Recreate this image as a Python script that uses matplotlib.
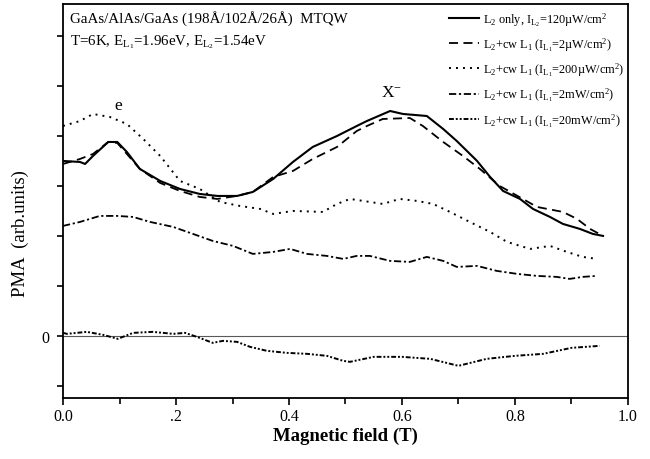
import numpy as np
import matplotlib
matplotlib.use("Agg")
import matplotlib.pyplot as plt
from matplotlib.ticker import MultipleLocator, FixedLocator, FixedFormatter

plt.rcParams["font.family"] = ["Liberation Serif", "DejaVu Serif"]
plt.rcParams["mathtext.fontset"] = "custom"
plt.rcParams["mathtext.rm"] = "Liberation Serif"
plt.rcParams["mathtext.it"] = "Liberation Serif:italic"

# ---- data (field in T, PMA in arb. units)
x_l2 = [0.000, 0.030, 0.039, 0.053, 0.080, 0.096, 0.113, 0.136, 0.172, 0.207, 0.242,
        0.273, 0.308, 0.336, 0.372, 0.407, 0.442, 0.485, 0.520, 0.538, 0.579, 0.602,
        0.644, 0.673, 0.697, 0.733, 0.756, 0.779, 0.809, 0.832, 0.862, 0.885, 0.915,
        0.938, 0.956]
y_l2 = [3.50, 3.48, 3.44, 3.60, 3.88, 3.88, 3.68, 3.34, 3.10, 2.94, 2.84,
        2.80, 2.80, 2.88, 3.14, 3.48, 3.78, 4.00, 4.20, 4.30, 4.50, 4.44,
        4.40, 4.14, 3.90, 3.50, 3.18, 2.90, 2.74, 2.54, 2.38, 2.24, 2.14,
        2.04, 2.00]

x_2uw = [0.000, 0.030, 0.053, 0.080, 0.096, 0.113, 0.136, 0.172, 0.207, 0.242, 0.273,
         0.308, 0.336, 0.372, 0.407, 0.442, 0.485, 0.520, 0.538, 0.566, 0.614, 0.637,
         0.673, 0.708, 0.738, 0.773, 0.814, 0.839, 0.885, 0.910, 0.933, 0.956]
y_2uw = [3.44, 3.54, 3.64, 3.88, 3.86, 3.64, 3.34, 3.06, 2.90, 2.78, 2.74,
         2.80, 2.88, 3.18, 3.30, 3.54, 3.78, 4.10, 4.20, 4.34, 4.36, 4.20,
         3.88, 3.60, 3.34, 3.00, 2.74, 2.58, 2.48, 2.34, 2.14, 2.00]

x_200uw = [0.000, 0.030, 0.053, 0.083, 0.113, 0.142, 0.172, 0.207, 0.242, 0.278, 0.313,
           0.349, 0.372, 0.407, 0.460, 0.485, 0.508, 0.543, 0.566, 0.596, 0.627, 0.655,
           0.685, 0.720, 0.756, 0.786, 0.827, 0.862, 0.892, 0.920, 0.945]
y_200uw = [4.20, 4.30, 4.44, 4.38, 4.24, 3.94, 3.60, 3.10, 2.94, 2.68, 2.60,
           2.54, 2.44, 2.50, 2.48, 2.64, 2.74, 2.68, 2.64, 2.74, 2.70, 2.64,
           2.48, 2.28, 2.08, 1.88, 1.74, 1.80, 1.68, 1.58, 1.54]

x_2mw = [0.000, 0.030, 0.065, 0.096, 0.124, 0.154, 0.195, 0.230, 0.265, 0.301, 0.336,
         0.372, 0.402, 0.432, 0.467, 0.496, 0.520, 0.543, 0.579, 0.614, 0.644, 0.673,
         0.697, 0.733, 0.768, 0.804, 0.839, 0.874, 0.897, 0.920, 0.945]
y_2mw = [2.20, 2.28, 2.40, 2.40, 2.38, 2.28, 2.18, 2.04, 1.90, 1.80, 1.64,
         1.68, 1.74, 1.64, 1.60, 1.54, 1.60, 1.60, 1.50, 1.48, 1.58, 1.50,
         1.38, 1.40, 1.30, 1.24, 1.20, 1.18, 1.14, 1.18, 1.20]

x_20mw = [0.000, 0.007, 0.042, 0.071, 0.097, 0.124, 0.159, 0.195, 0.216, 0.237, 0.265,
          0.283, 0.308, 0.331, 0.361, 0.396, 0.432, 0.467, 0.496, 0.508, 0.550, 0.600,
          0.650, 0.700, 0.750, 0.800, 0.850, 0.900, 0.950]
y_20mw = [0.06, 0.04, 0.08, 0.02, -0.06, 0.06, 0.08, 0.04, 0.06, -0.02, -0.14,
          -0.10, -0.12, -0.22, -0.30, -0.34, -0.36, -0.40, -0.50, -0.52, -0.42, -0.42,
          -0.46, -0.60, -0.46, -0.40, -0.36, -0.24, -0.20]

labels = [
    r"L$_2$ only, I$_{\mathrm{L}_2}$=120µW/cm$^2$",
    r"L$_2$+cw L$_1$ (I$_{\mathrm{L}_1}$=2µW/cm$^2$)",
    r"L$_2$+cw L$_1$ (I$_{\mathrm{L}_1}$=200µW/cm$^2$)",
    r"L$_2$+cw L$_1$ (I$_{\mathrm{L}_1}$=2mW/cm$^2$)",
    r"L$_2$+cw L$_1$ (I$_{\mathrm{L}_1}$=20mW/cm$^2$)",
]
xtick_vals = [0.0, 0.2, 0.4, 0.6, 0.8, 1.0]
xtick_labels = ["0.0", ".2", "0.4", "0.6", "0.8", "1.0"]

# ---- figure
fig = plt.figure(figsize=(6.5, 4.6), dpi=100)
ax = fig.add_axes([0.097, 0.133, 0.869, 0.856])

ax.axhline(0, color="0.35", lw=0.8, zorder=1)
ax.plot(x_l2, y_l2, color="k", lw=1.5, ls="-", label=labels[0])
ax.plot(x_2uw, y_2uw, color="k", lw=1.3, ls=(0, (5, 3)), label=labels[1])
ax.plot(x_200uw, y_200uw, color="k", lw=1.4, ls=(0, (1, 2.6)), label=labels[2])
ax.plot(x_2mw, y_2mw, color="k", lw=1.3, ls=(0, (4, 1.5, 1.2, 1.5)), label=labels[3])
ax.plot(x_20mw, y_20mw, color="k", lw=1.4, ls=(0, (2.5, 1, 1, 1, 1, 1)), label=labels[4])

ax.set_xlim(0, 1.0)
ax.set_ylim(-1.24, 6.64)
ax.xaxis.set_major_locator(FixedLocator(xtick_vals))
ax.xaxis.set_major_formatter(FixedFormatter(xtick_labels))
ax.xaxis.set_minor_locator(MultipleLocator(0.1))
ax.yaxis.set_major_locator(FixedLocator([0]))
ax.yaxis.set_minor_locator(FixedLocator([-1, 1, 2, 3, 4, 5, 6]))
ax.tick_params(axis="both", which="both", direction="out", width=1.2, labelsize=11.5)
ax.tick_params(axis="x", which="major", length=5, pad=2)
ax.tick_params(axis="x", which="minor", length=4)
ax.tick_params(axis="y", which="both", length=4, pad=6)
for s in ax.spines.values():
    s.set_linewidth(1.3)

ax.set_xlabel("Magnetic field (T)", fontsize=13.5, fontweight="bold", labelpad=2)
ax.set_ylabel("PMA  (arb.units)", fontsize=13.5)
ax.yaxis.set_label_coords(-0.06, 0.42)

ax.text(0.012, 0.967, "GaAs/AlAs/GaAs (198Å/102Å/26Å)  MTQW",
        transform=ax.transAxes, fontsize=10.8, va="center", ha="left")
ax.text(0.012, 0.905, r"T=6K, E$_{\mathrm{L}_1}$=1.96eV, E$_{\mathrm{L}_2}$=1.54eV",
        transform=ax.transAxes, fontsize=10.8, va="center", ha="left")
ax.text(0.097, 4.62, "e", fontsize=12.5, ha="center", va="center")
ax.text(0.582, 4.88, r"X$^{-}$", fontsize=12.5, ha="center", va="center")

leg = ax.legend(loc="upper left", bbox_to_anchor=(0.683, 0.985), frameon=False,
                fontsize=8.8, handlelength=2.5, handletextpad=0.3,
                borderpad=0, borderaxespad=0, labelspacing=0.62)

fig.savefig("out.png", dpi=100)
